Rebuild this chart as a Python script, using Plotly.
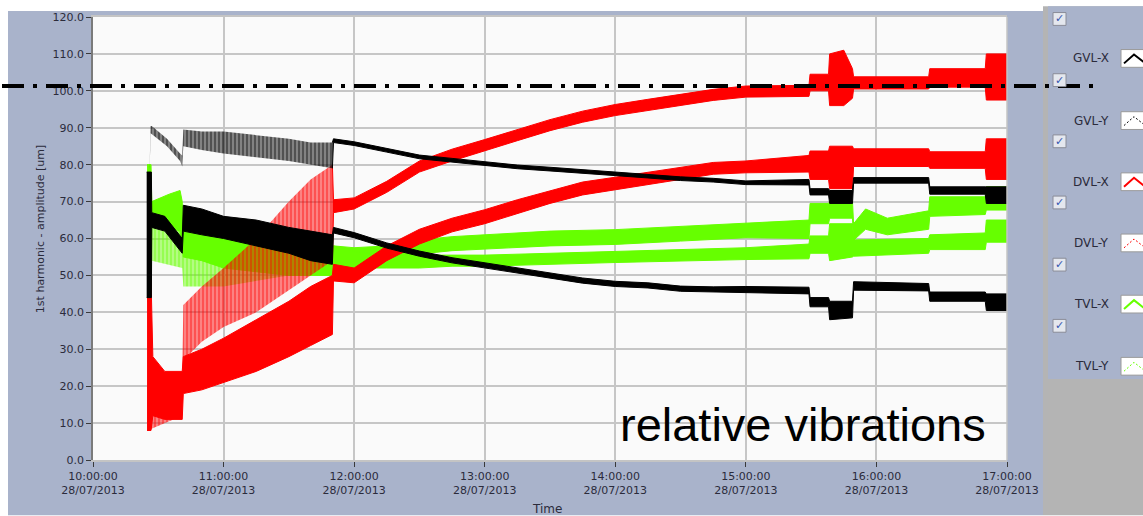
import plotly.graph_objects as go

DAY = "2013-07-28 "

# ---------------- data ----------------
# each series: time, lower edge and upper edge of the noisy trace [um]
GVL_X_T = ["10:24:40", "10:26:50", "10:27:00", "10:33:00", "10:41:00", "10:41:30", "10:50:00", "11:00:00",
           "11:15:00", "11:30:00", "11:40:00", "11:50:00", "11:50:30", "12:00:00", "12:15:00", "12:30:00",
           "12:45:00", "13:00:00", "13:15:00", "13:30:00", "13:45:00", "14:00:00", "14:15:00", "14:30:00",
           "14:45:00", "15:00:00", "15:29:00", "15:29:30", "15:38:00", "15:38:30", "15:49:00", "15:49:30",
           "16:24:00", "16:24:30", "16:50:00", "16:50:30", "17:00:00"]
GVL_X_LO = [44, 44, 63, 62, 56, 62, 61, 60, 58, 56, 54, 53, 61.5, 60.2, 57.4, 55.2, 53.4, 52, 50.7, 49.3,
            47.9, 47, 46.6, 45.7, 45.5, 45.3, 45, 41.5, 41.5, 38, 38.5, 46, 45.8, 43, 43, 40.5, 40.5]
GVL_X_HI = [78, 78, 67, 66, 60, 69, 68, 66, 65, 63, 62, 61, 63, 61.6, 58.8, 56.6, 54.8, 53.4, 52.1, 50.7,
            49.3, 48.4, 48, 47.1, 46.9, 47, 46.8, 44, 44, 43, 43, 48.3, 47.8, 45.5, 45.5, 45, 45]

GVL_Y_T = ["10:26:00", "10:26:30", "10:27:00", "10:34:00", "10:40:00", "10:41:00", "10:41:30", "10:50:00",
           "11:00:00", "11:15:00", "11:30:00", "11:40:00", "11:50:00", "11:50:30", "12:00:00", "12:15:00",
           "12:30:00", "12:45:00", "13:00:00", "13:15:00", "13:30:00", "13:45:00", "14:00:00", "14:15:00",
           "14:30:00", "14:45:00", "15:00:00", "15:29:00", "15:29:30", "15:38:00", "15:38:30", "15:49:00",
           "15:49:30", "16:24:00", "16:24:30", "16:50:00", "16:50:30", "17:00:00"]
GVL_Y_LO = [78.5, 88.5, 88.5, 85, 81, 79.5, 85, 84, 83, 82, 81, 80, 79, 86, 85.2, 83.4, 81.6, 80.7, 79.8,
            78.9, 78.3, 77.6, 77.1, 76.4, 75.7, 75.3, 74.6, 74.5, 71.8, 71.8, 69.5, 69.5, 75, 75, 72, 72,
            69.5, 69.5]
GVL_Y_HI = [79.5, 90.5, 90.5, 87, 83, 82.5, 89.5, 89, 89, 88, 87, 86, 86, 87, 86.2, 84.4, 82.6, 81.7, 80.8,
            79.9, 79.3, 78.6, 78.1, 77.4, 76.7, 76.3, 75.6, 76, 73.5, 73.5, 73, 73, 76.5, 76.5, 74, 74,
            74, 74]

DVL_X_T = ["10:24:50", "10:26:40", "10:27:30", "10:33:00", "10:41:00", "10:41:30", "10:50:00", "11:00:00",
           "11:15:00", "11:30:00", "11:40:00", "11:50:00", "11:50:30", "12:00:00", "12:15:00", "12:30:00",
           "12:45:00", "13:00:00", "13:15:00", "13:30:00", "13:45:00", "14:00:00", "14:15:00", "14:30:00",
           "14:45:00", "15:00:00", "15:29:00", "15:29:30", "15:38:00", "15:38:30", "15:49:00", "15:49:30",
           "16:24:00", "16:24:30", "16:50:00", "16:50:30", "17:00:00"]
DVL_X_LO = [8, 8, 12, 11, 11, 18, 19, 21, 24, 28, 31, 34, 48.5, 48, 54, 58.5, 61.8, 64, 66.8, 69.5, 71.8,
            73.2, 74.5, 76, 77.4, 77.8, 78, 76, 76, 73.5, 73.5, 79.5, 79.5, 79, 79, 76, 76]
DVL_X_HI = [49, 49, 28, 24, 24, 28, 30, 33, 38, 43, 47, 50, 53, 52, 58, 62.5, 65.5, 67.8, 70.5, 73, 75.3,
            76.6, 78, 79.3, 80.6, 81, 82.5, 83.7, 83.7, 85, 85, 84.3, 84.3, 83.5, 83.5, 87, 87]

DVL_Y_T = ["10:25:00", "10:41:00", "10:41:30", "10:50:00", "11:00:00", "11:15:00", "11:30:00", "11:40:00",
           "11:50:00", "11:50:30", "12:00:00", "12:15:00", "12:30:00", "12:45:00", "13:00:00", "13:15:00",
           "13:30:00", "13:45:00", "14:00:00", "14:15:00", "14:30:00", "14:45:00", "15:00:00", "15:29:00",
           "15:29:30", "15:38:00", "15:38:30", "15:45:00", "15:49:00", "15:49:30", "16:24:00", "16:24:30",
           "16:50:00", "16:50:30", "17:00:00"]
DVL_Y_LO = [8, 12, 27, 32, 36, 40, 46, 50, 54, 67, 68, 72.5, 78, 81, 83.8, 86.5, 89.2, 91.5, 93.3, 94.7,
            96, 97.4, 98.3, 98.5, 100, 100, 96, 96, 98, 100.5, 100.5, 101, 101, 97.5, 97.5]
DVL_Y_HI = [20, 22, 42, 47, 52, 60, 70, 76, 80, 70.5, 71, 75.5, 81, 84.2, 86.8, 89.5, 92.2, 94.5, 96.3,
            97.7, 99, 100.4, 101.3, 101.5, 104.5, 104.5, 110, 111, 106, 103.8, 103.8, 106, 106, 110, 110]

TVL_X_T = ["10:24:50", "10:26:40", "10:27:00", "10:35:00", "10:40:00", "10:41:00", "10:41:30", "10:50:00",
           "11:00:00", "11:15:00", "11:30:00", "11:50:00", "11:50:30", "12:00:00", "12:15:00", "12:30:00",
           "12:45:00", "13:00:00", "13:30:00", "14:00:00", "14:30:00", "15:00:00", "15:29:00", "15:29:30",
           "15:38:00", "15:38:30", "15:49:00", "15:49:30", "16:24:00", "16:24:30", "16:50:00", "16:50:30",
           "17:00:00"]
TVL_X_LO = [43, 43, 63, 63, 62, 58, 55, 54, 52, 51, 50, 50, 52, 52, 52, 52, 52.5, 52.5, 53, 53.5, 54,
            54.3, 54.5, 56, 56, 54, 55, 55.2, 56, 57, 57, 59, 59]
TVL_X_HI = [80, 80, 70, 72, 73, 70, 63, 63, 62, 60, 59, 58, 58, 56.5, 55.5, 55.5, 55.5, 55.5, 56, 56.5, 57,
            57.5, 58.5, 60.7, 60.7, 64, 64, 59.6, 60, 61, 61.5, 65, 65]

TVL_Y_T = ["10:27:00", "10:41:00", "10:41:30", "11:00:00", "11:30:00", "11:50:00", "11:50:30", "12:00:00",
           "12:15:00", "12:30:00", "12:45:00", "13:00:00", "13:30:00", "14:00:00", "14:30:00", "15:00:00",
           "15:29:00", "15:29:30", "15:38:00", "15:38:30", "15:49:00", "15:49:30", "15:55:00", "16:05:00",
           "16:24:00", "16:24:30", "16:50:00", "16:50:30", "17:00:00"]
TVL_Y_LO = [54, 52, 47, 47, 50, 51, 52, 53, 54, 55.8, 56.7, 57, 58, 58.4, 59.3, 60.2, 60, 64, 64, 65.5,
            65.5, 59.5, 62.5, 61, 62.5, 66, 66.5, 67.7, 67.7]
TVL_Y_HI = [64, 62, 58, 57, 56, 57, 58, 57.5, 58, 59.6, 60.5, 61, 62, 62.4, 63.3, 64.2, 65, 69.5, 69.5, 70,
            70, 64, 68, 65.5, 67.5, 71.3, 71.3, 74, 74]

SERIES = ["GVL-X", "GVL-Y", "DVL-X", "DVL-Y", "TVL-X", "TVL-Y"]
LIMIT = 101.3
Y_TICKS = [0, 10, 20, 30, 40, 50, 60, 70, 80, 90, 100, 110, 120]
X_RANGE = ["10:00:00", "17:00:00"]

# ---------------- styling ----------------
W, H = 1143, 516
L, R, T, B = 93, 1007, 11, 460          # plot area in pixels
PW, PH = R - L, B - T
PANEL = "#a9b3cb"
TXT = "#2b2b3b"
COL = {"GVL-X": "#000000", "GVL-Y": "#000000", "DVL-X": "#ff0000", "DVL-Y": "#ff0000",
       "TVL-X": "#66ff00", "TVL-Y": "#66ff00"}
TINT = {"GVL-Y": "rgba(0,0,0,0.35)", "DVL-Y": "rgba(255,0,0,0.35)", "TVL-Y": "rgba(102,255,0,0.35)"}
DASHED = {"GVL-Y", "DVL-Y", "TVL-Y"}
NOISY_END = "11:50:00"


def px(x):
    return (x - L) / PW


def py(y):
    return (B - y) / PH


def band_trace(ts, lo, hi, name, patterned):
    color = COL[name]
    xs = [DAY + t for t in ts]
    x = xs + xs[::-1]
    y = list(hi) + list(lo)[::-1]
    if patterned:
        return go.Scatter(x=x, y=y, mode="lines", fill="toself", line=dict(width=0, color=color),
                          fillcolor=TINT[name],
                          fillpattern=dict(shape="|", fgcolor=color, bgcolor=TINT[name],
                                           size=4, solidity=0.7),
                          hoverinfo="skip", showlegend=False)
    return go.Scatter(x=x, y=y, mode="lines", fill="toself", line=dict(width=1, color=color),
                      fillcolor=color, hoverinfo="skip", showlegend=False)


def add_series(fig, name, ts, lo, hi):
    if name in DASHED:
        a = [i for i, t in enumerate(ts) if t <= NOISY_END]
        b = [i for i, t in enumerate(ts) if t > NOISY_END]
        if a:
            fig.add_trace(band_trace([ts[i] for i in a], [lo[i] for i in a], [hi[i] for i in a], name, True))
        if b:
            bb = ([a[-1]] if a else []) + b
            fig.add_trace(band_trace([ts[i] for i in bb], [lo[i] for i in bb], [hi[i] for i in bb], name, False))
    else:
        fig.add_trace(band_trace(ts, lo, hi, name, False))


fig = go.Figure()
# drawing order: green, red, black (black on top)
add_series(fig, "TVL-Y", TVL_Y_T, TVL_Y_LO, TVL_Y_HI)
add_series(fig, "TVL-X", TVL_X_T, TVL_X_LO, TVL_X_HI)
add_series(fig, "DVL-Y", DVL_Y_T, DVL_Y_LO, DVL_Y_HI)
add_series(fig, "DVL-X", DVL_X_T, DVL_X_LO, DVL_X_HI)
add_series(fig, "GVL-Y", GVL_Y_T, GVL_Y_LO, GVL_Y_HI)
add_series(fig, "GVL-X", GVL_X_T, GVL_X_LO, GVL_X_HI)

shapes = []
# background panels
shapes.append(dict(type="rect", xref="paper", yref="paper", x0=px(8), x1=px(1043), y0=py(516), y1=py(5),
                   fillcolor=PANEL, line=dict(width=0), layer="below"))
shapes.append(dict(type="rect", xref="paper", yref="paper", x0=px(1043), x1=px(1143), y0=py(516), y1=py(0),
                   fillcolor="#b4b4b4", line=dict(width=0), layer="below"))
shapes.append(dict(type="rect", xref="paper", yref="paper", x0=px(1048), x1=px(1143), y0=py(378), y1=py(0),
                   fillcolor=PANEL, line=dict(width=0), layer="below"))
shapes.append(dict(type="rect", xref="paper", yref="paper", x0=0, x1=1, y0=0, y1=1,
                   fillcolor="#fafafa", line=dict(width=0), layer="below"))
# right border of plot area
shapes.append(dict(type="line", xref="paper", yref="paper", x0=1, x1=1, y0=0, y1=1,
                   line=dict(color="#c4c4c4", width=1.5)))
# limit line (dash-dot), spans outside the plot
shapes.append(dict(type="line", xref="paper", yref="paper", x0=px(2), x1=px(1100),
                   y0=LIMIT / 120, y1=LIMIT / 120,
                   line=dict(color="#000000", width=4, dash="22px,9px,4px,9px")))

annotations = []
# legend (LabVIEW style)
CHECK_Y = [13, 75, 137, 199, 262, 324]
LABEL_Y = [53, 116, 178, 240, 302, 365]
for name, cy, ly in zip(SERIES, CHECK_Y, LABEL_Y):
    shapes.append(dict(type="rect", xref="paper", yref="paper", x0=px(1053), x1=px(1066),
                       y0=py(cy + 6.5), y1=py(cy - 6.5), fillcolor="#e4e7ee",
                       line=dict(color="#8a8c98", width=1)))
    annotations.append(dict(text="✓", xref="paper", yref="paper", x=px(1059.5), y=py(cy),
                            xanchor="center", yanchor="middle", showarrow=False,
                            font=dict(family="DejaVu Sans", size=11, color="#3456b0")))
    annotations.append(dict(text=name, xref="paper", yref="paper", x=px(1111), y=py(ly),
                            xanchor="right", yanchor="middle", showarrow=False,
                            font=dict(family="DejaVu Sans", size=12, color=TXT)))
    shapes.append(dict(type="rect", xref="paper", yref="paper", x0=px(1121), x1=px(1152),
                       y0=py(ly + 9), y1=py(ly - 9), fillcolor="#ffffff",
                       line=dict(color="#9a9a9a", width=1)))
    path = "M {:.5f},{:.5f} L {:.5f},{:.5f} L {:.5f},{:.5f}".format(
        px(1124), py(ly + 5), px(1134), py(ly - 4), px(1144), py(ly + 4))
    if name in DASHED:
        ln = dict(color=COL[name], width=1, dash="2px,2px")
    else:
        ln = dict(color=COL[name], width=2)
    shapes.append(dict(type="path", xref="paper", yref="paper", path=path, line=ln))

# axis titles and caption
annotations.append(dict(text="1st harmonic - amplitude [um]", xref="paper", yref="paper",
                        x=px(40), y=py(226), textangle=-90, xanchor="center", yanchor="middle",
                        showarrow=False, font=dict(family="DejaVu Sans", size=11, color=TXT)))
annotations.append(dict(text="Time", xref="paper", yref="paper", x=px(547), y=py(510),
                        xanchor="center", yanchor="middle", showarrow=False,
                        font=dict(family="DejaVu Sans", size=12, color=TXT)))
annotations.append(dict(text="relative vibrations", xref="paper", yref="paper", x=px(803), y=py(424),
                        xanchor="center", yanchor="middle", showarrow=False,
                        font=dict(family="Liberation Sans", size=47, color="#000000")))

fig.update_layout(
    width=W, height=H, autosize=False,
    margin=dict(l=L, r=W - R, t=T, b=H - B, pad=0),
    paper_bgcolor="#ffffff", plot_bgcolor="#fafafa",
    showlegend=False,
    shapes=shapes, annotations=annotations,
    font=dict(family="DejaVu Sans", size=11, color=TXT),
    xaxis=dict(type="date", range=[DAY + X_RANGE[0], DAY + X_RANGE[1]],
               dtick=3600000, tick0=DAY + X_RANGE[0], tickformat="%H:%M:%S<br>%d/%m/%Y",
               showgrid=True, gridcolor="#c6c6c6", gridwidth=1.5,
               showline=True, linecolor="#c4c4c4", linewidth=1.5, mirror=True,
               ticks="outside", ticklen=5, tickcolor="#3a3a3a", tickwidth=1,
               tickfont=dict(family="DejaVu Sans", size=11, color=TXT), zeroline=False,
               fixedrange=True),
    yaxis=dict(range=[0, 120], tickvals=Y_TICKS, tickformat=".1f",
               showgrid=True, gridcolor="#c6c6c6", gridwidth=1.5,
               showline=True, linecolor="#7a7a7a", linewidth=1.5,
               ticks="outside", ticklen=5, tickcolor="#3a3a3a", tickwidth=1,
               tickfont=dict(family="DejaVu Sans", size=11, color=TXT), zeroline=False,
               fixedrange=True),
)

fig.write_html("out.html", config={"displayModeBar": False})
